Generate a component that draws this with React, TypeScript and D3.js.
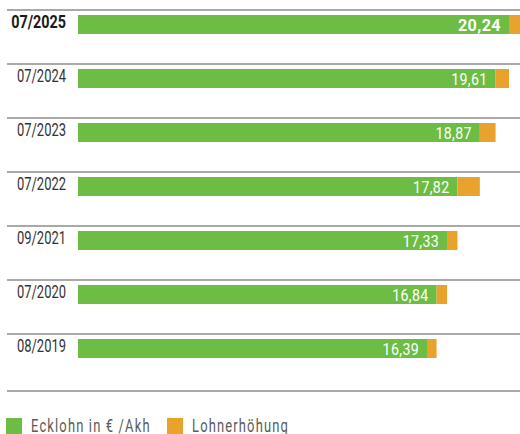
import React from "react";
import * as d3 from "d3";

const categories = ["07/2025", "07/2024", "07/2023", "07/2022", "09/2021", "07/2020", "08/2019"];
const ecklohn = [20.24, 19.61, 18.87, 17.82, 17.33, 16.84, 16.39];
const lohnerhoehung = [0.55, 0.63, 0.74, 1.05, 0.49, 0.49, 0.45];
const valueLabels = ["20,24", "19,61", "18,87", "17,82", "17,33", "16,84", "16,39"];
const legendLabels = ["Ecklohn in € /Akh", "Lohnerhöhung"];

const W = 520;
const H = 434;
const GREEN = "#6dbd45";
const ORANGE = "#e9a22b";
const FONT = "Roboto, 'DejaVu Sans', sans-serif";

type TProps = {
  x: number;
  y: number;
  sx: number;
  anchor?: "start" | "end" | "middle";
  fill: string;
  size: number;
  weight?: number;
  spacing?: number;
  children: React.ReactNode;
};

function T({ x, y, sx, anchor = "start", fill, size, weight = 400, spacing = 0, children }: TProps) {
  return (
    <text
      transform={`translate(${x},${y}) scale(${sx},1)`}
      textAnchor={anchor}
      fill={fill}
      fontSize={size}
      fontWeight={weight}
      letterSpacing={spacing}
    >
      {children}
    </text>
  );
}

export default function App() {
  const x = d3.scaleLinear().domain([0, 20.24]).range([78, 509]);
  const y = d3.scaleBand<string>().domain(categories).range([10, 388]).padding(0);
  const barOffset = 5;
  const barH = 19;

  return (
    <div style={{ position: "absolute", left: 0, top: 0 }}>
      <svg width={W} height={H} style={{ display: "block", fontFamily: FONT }}>
        <rect width={W} height={H} fill="#fff" />
        {categories.map((c) => (
          <line key={"g" + c} x1={7} x2={W} y1={y(c)!} y2={y(c)!} stroke="#8d8d8d" strokeWidth={1.6} />
        ))}
        <line x1={7} x2={W} y1={391} y2={391} stroke="#8d8d8d" strokeWidth={1.6} />
        {categories.map((c, i) => {
          const top = y(c)! + barOffset;
          const bold = i === 0;
          return (
            <g key={c}>
              <rect x={x(0)} y={top} width={x(ecklohn[i]) - x(0)} height={barH} fill={GREEN} />
              <rect
                x={x(ecklohn[i])}
                y={top}
                width={x(ecklohn[i] + lohnerhoehung[i]) - x(ecklohn[i])}
                height={barH}
                fill={ORANGE}
              />
              <T
                x={x(ecklohn[i]) - 8}
                y={top + barH / 2 + 6}
                anchor="end"
                fill="#fff"
                size={16.5}
                sx={bold ? 0.98 : 0.86}
                weight={bold ? 700 : 400}
                spacing={0.4}
              >
                {valueLabels[i]}
              </T>
              <T
                x={66}
                y={top + 13}
                anchor="end"
                fill={bold ? "#1a1a1a" : "#333"}
                size={18}
                sx={bold ? 0.8 : 0.72}
                weight={bold ? 700 : 400}
              >
                {c}
              </T>
            </g>
          );
        })}
        <rect x={6} y={418} width={16} height={16} fill={GREEN} />
        <T x={31} y={432} sx={0.72} fill="#5a5a5a" size={18} spacing={1.6}>
          {legendLabels[0]}
        </T>
        <rect x={167} y={418} width={16} height={16} fill={ORANGE} />
        <T x={192} y={432} sx={0.72} fill="#5a5a5a" size={18} spacing={1.6}>
          {legendLabels[1]}
        </T>
      </svg>
    </div>
  );
}
